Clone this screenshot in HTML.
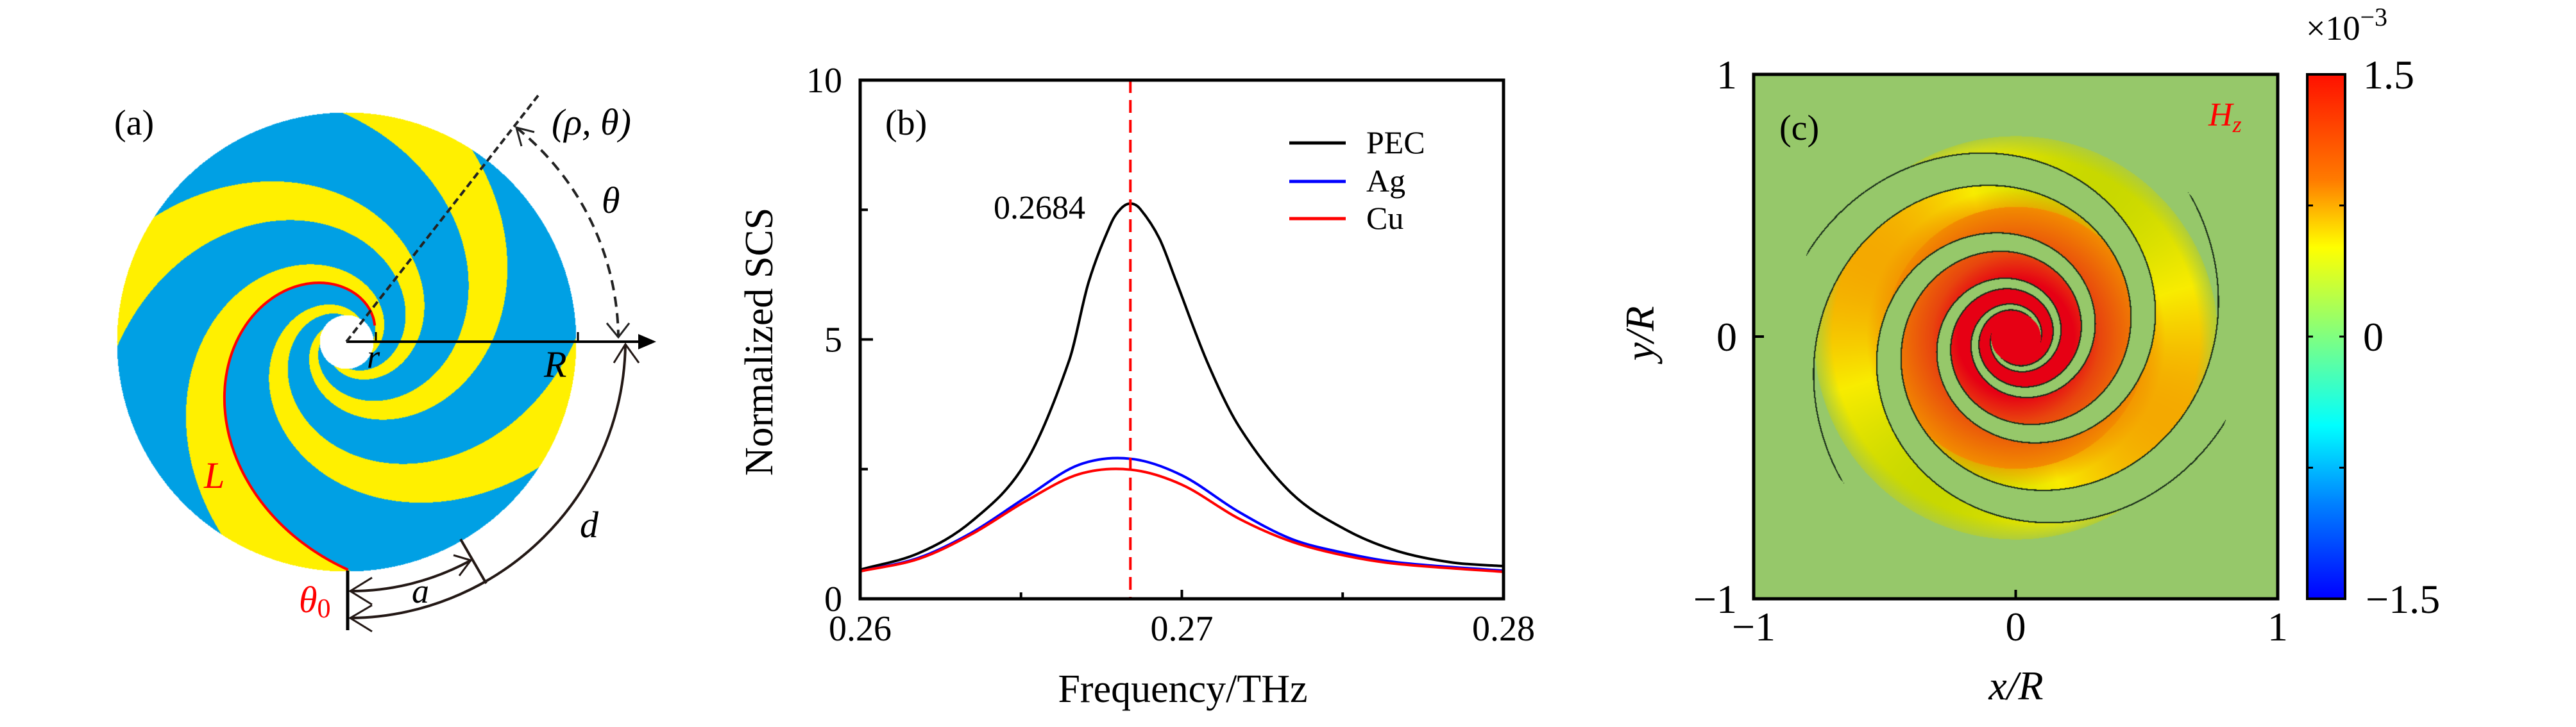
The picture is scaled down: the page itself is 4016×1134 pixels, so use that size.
<!DOCTYPE html>
<html><head><meta charset="utf-8">
<style>
html,body{margin:0;padding:0;background:#fff;}
#wrap{position:relative;width:4016px;height:1134px;overflow:hidden;font-family:"Liberation Serif","DejaVu Serif",serif;}
canvas,svg{position:absolute;left:0;top:0;}
svg text{font-family:"Liberation Serif","DejaVu Serif",serif;}
</style></head>
<body>
<div id="wrap">
<canvas id="ca" width="800" height="800" style="left:140px;top:133px"></canvas>
<canvas id="cc" width="817" height="818" style="left:2734px;top:116px"></canvas>
<svg id="sv" width="4016" height="1134" viewBox="0 0 4016 1134" font-family="Liberation Serif, DejaVu Serif, serif">
<defs>
<linearGradient id="jet" x1="0" y1="0" x2="0" y2="1">
<stop offset="0" stop-color="#ff1000"/><stop offset="0.2" stop-color="#ff7a00"/><stop offset="0.33" stop-color="#ffff00"/><stop offset="0.5" stop-color="#80ff80"/><stop offset="0.67" stop-color="#00ffff"/><stop offset="0.82" stop-color="#0080ff"/><stop offset="1" stop-color="#0000ff"/>
</linearGradient>
</defs>
<g id="ga"></g>
<g id="gb"></g>
<g id="gc"></g>
</svg>
</div>
<script>
// ---------- Panel (b) data ----------
const freqPEC = [0.26,0.26182,0.26348,0.26514,0.2665,0.2671,0.2678,0.2681,0.2684,0.2687,0.2693,0.2698,0.2708,0.2718,0.2734,0.2751,0.2767,0.2784,0.28];
const valPEC  = [0.56,0.88,1.50,2.62,4.60,6.10,7.24,7.52,7.62,7.52,6.95,6.16,4.55,3.30,2.04,1.33,0.92,0.70,0.63];
const freqMetal = [0.26,0.26182,0.26348,0.26514,0.26679,0.2684,0.2700,0.27176,0.27342,0.27508,0.27673,0.28];
const valAg = [0.53,0.79,1.28,1.95,2.58,2.70,2.38,1.68,1.15,0.88,0.70,0.54];
const valCu = [0.53,0.77,1.25,1.88,2.40,2.49,2.20,1.55,1.10,0.83,0.67,0.52];
const xTicks = [0.26,0.27,0.28];
const xTickLabels = ["0.26","0.27","0.28"];
const xMinor = [0.265,0.275];
const yTicks = [0,5,10];
const yTickLabels = ["0","5","10"];
const yMinor = [2.5,7.5];
const peakFreq = 0.2684;

const NS="http://www.w3.org/2000/svg";
function mk(tag,attrs,parent,txt){const e=document.createElementNS(NS,tag);for(const k in attrs)e.setAttribute(k,attrs[k]);if(txt!==undefined)e.textContent=txt;parent.appendChild(e);return e;}

const gb=document.getElementById('gb');
const BX0=1341,BX1=2344,BY0=125,BY1=934;
const xs=f=>BX0+(f-0.26)/(0.28-0.26)*(BX1-BX0);
const ys=v=>BY1-(v-0)/(10-0)*(BY1-BY0);
function smoothPath(X,Y){const n=X.length,m=[];
 for(let i=0;i<n;i++){if(i===0)m[i]=(Y[1]-Y[0])/(X[1]-X[0]);else if(i===n-1)m[i]=(Y[n-1]-Y[n-2])/(X[n-1]-X[n-2]);else m[i]=(Y[i+1]-Y[i-1])/(X[i+1]-X[i-1]);}
 let p=`M${X[0]},${Y[0]}`;for(let i=0;i<n-1;i++){const h=X[i+1]-X[i];p+=` C${X[i]+h/3},${Y[i]+m[i]*h/3} ${X[i+1]-h/3},${Y[i+1]-m[i+1]*h/3} ${X[i+1]},${Y[i+1]}`;}return p;}
let e;
e=mk('path',{d:smoothPath(freqPEC.map(xs),valPEC.map(ys)),fill:'none',stroke:'#000','stroke-width':4},gb);


e=mk('path',{d:smoothPath(freqMetal.map(xs),valAg.map(ys)),fill:'none',stroke:'#0000ff','stroke-width':4},gb);


e=mk('path',{d:smoothPath(freqMetal.map(xs),valCu.map(ys)),fill:'none',stroke:'#ff0000','stroke-width':4},gb);


e=mk('line',{x1:xs(peakFreq),x2:xs(peakFreq),y1:BY0,y2:BY1,stroke:'#ff0000','stroke-width':4,'stroke-dasharray':'20,11'},gb);


e=mk('text',{x:1549,y:341,'font-size':52},gb,String(peakFreq));


e=mk('rect',{x:BX0,y:BY0,width:BX1-BX0,height:BY1-BY0,fill:'none',stroke:'#000','stroke-width':5},gb);


xTicks.forEach((t,i)=>{
  e=mk('line',{x1:xs(t),x2:xs(t),y1:BY1,y2:BY1-14,stroke:'#000','stroke-width':4},gb);
  
  
  e=mk('text',{x:xs(t),y:999,'font-size':56,'text-anchor':'middle'},gb,xTickLabels[i]);
  
  
});
xMinor.forEach(t=>{e=mk('line',{x1:xs(t),x2:xs(t),y1:BY1,y2:BY1-10,stroke:'#000','stroke-width':4},gb);
  
  });
yTicks.forEach((t,i)=>{
  e=mk('line',{x1:BX0,x2:BX0+20,y1:ys(t),y2:ys(t),stroke:'#000','stroke-width':4},gb);
  
  
  e=mk('text',{x:1313,y:ys(t)+19,'font-size':56,'text-anchor':'end'},gb,yTickLabels[i]);
  
  
});
yMinor.forEach(t=>{e=mk('line',{x1:BX0,x2:BX0+12,y1:ys(t),y2:ys(t),stroke:'#000','stroke-width':4},gb);
  
  });
e=mk('text',{x:1844,y:1095,'font-size':62,'text-anchor':'middle'},gb,'Frequency/THz');


e=mk('text',{x:0,y:0,'font-size':62,'text-anchor':'middle',transform:'translate(1204,533) rotate(-90)'},gb,'Normalized SCS');


e=mk('text',{x:1380,y:210,'font-size':56},gb,'(b)');


const legNames=["PEC","Ag","Cu"],legColors=["#000","#0000ff","#ff0000"],legY=[223,283,341];
legNames.forEach((n,i)=>{
  e=mk('line',{x1:2010,x2:2098,y1:legY[i],y2:legY[i],stroke:legColors[i],'stroke-width':5},gb);
  
  
  e=mk('text',{x:2130,y:legY[i]+16,'font-size':50},gb,n);
  
  
});

// ---------- Panel (a) ----------
(function(){
const c=document.getElementById('ca'),ctx=c.getContext('2d');const W=800,H=800;const img=ctx.createImageData(W,H);
const CXa=540,CYa=533,R=358,r0=51,bb=0.1157;
const cx=CXa-140,cy=CYa-133;
for(let y=0;y<H;y++)for(let x=0;x<W;x++){
  const dx=x-cx,dy=cy-y,rho=Math.hypot(dx,dy);const i=(y*W+x)*4;
  if(rho>R||rho<42){continue;}
  let th=Math.atan2(dy,dx);
  let ph=4*th-Math.log(rho/r0)/bb-2.09;
  let f=((ph/(2*Math.PI))%1+1)%1;
  if(f>0.62){img.data[i]=255;img.data[i+1]=240;img.data[i+2]=0;}else{img.data[i]=0;img.data[i+1]=160;img.data[i+2]=228;}
  img.data[i+3]=255;
}
ctx.putImageData(img,0,0);
const ga=document.getElementById('ga');
let pts=[];for(let t=0.52;t<=4.72;t+=0.02){const rr=r0*Math.exp(bb*(4*t-2.09));pts.push((CXa+rr*Math.cos(t)).toFixed(1)+','+(CYa-rr*Math.sin(t)).toFixed(1));}
e=mk('polyline',{points:pts.join(' '),fill:'none',stroke:'#ff0000','stroke-width':4},ga);


e=mk('line',{x1:540,y1:533,x2:1000,y2:533,stroke:'#000','stroke-width':4},ga);


e=mk('polygon',{points:'1023,533 995,521 995,545',fill:'#000'},ga);


e=mk('line',{x1:586,y1:533,x2:586,y2:518,stroke:'#000','stroke-width':3},ga);


e=mk('line',{x1:901,y1:533,x2:901,y2:518,stroke:'#000','stroke-width':3},ga);


e=mk('line',{x1:540,y1:533,x2:839,y2:149,stroke:'#222','stroke-width':4,'stroke-dasharray':'11,6'},ga);


e=mk('path',{d:'M805,199 A425,425 0 0,1 964,526',fill:'none',stroke:'#222','stroke-width':4,'stroke-dasharray':'16,10'},ga);


e=mk('path',{d:'M813,228 L805,199 L833,206 M946,504 L964,526 L981,504',fill:'none',stroke:'#222','stroke-width':3},ga);


e=mk('path',{d:'M975,537 A433,433 0 0,1 546,964',fill:'none',stroke:'#231815','stroke-width':4},ga);


e=mk('path',{d:'M957,566 L975,537 L996,566 M580,944 L546,964 L580,985',fill:'none',stroke:'#231815','stroke-width':3},ga);


e=mk('path',{d:'M546,922 A389,389 0 0,0 734,874',fill:'none',stroke:'#231815','stroke-width':4},ga);


e=mk('path',{d:'M580,901 L546,922 L580,943 M707,866 L734,874 L716,898',fill:'none',stroke:'#231815','stroke-width':3},ga);


e=mk('line',{x1:718,y1:841,x2:758,y2:910,stroke:'#231815','stroke-width':4},ga);


e=mk('line',{x1:542,y1:890,x2:542,y2:983,stroke:'#000','stroke-width':5},ga);


const lab=[["(a)",178,210,56,'normal','#000','panel-label-a'],["(ρ, θ)",860,210,58,'italic','#000','point-label'],["θ",938,332,58,'italic','#000','theta-label'],["R",848,588,58,'italic','#000','R-label'],["r",572,574,52,'italic','#000','r-label'],["L",318,761,58,'italic','#ff0000','L-label'],["a",642,940,54,'italic','#000','a-label'],["d",904,838,58,'italic','#000','d-label']];
lab.forEach(l=>{e=mk('text',{x:l[1],y:l[2],'font-size':l[3],'font-style':l[4],fill:l[5]},ga,l[0]);
  
  });
e=mk('text',{x:466,y:955,'font-size':58,'font-style':'italic',fill:'#ff0000'},ga,'θ');


mk('tspan',{'font-style':'normal','font-size':42,dy:8},e,'0');
})();

// ---------- Panel (c) ----------
const cbTicks=[1.5,0,-1.5];
const cbTickLabels=["1.5","0","−1.5"];
const cTicks=[-1,0,1];
const cTickLabels=["−1","0","1"];
(function(){
const c=document.getElementById('cc'),ctx=c.getContext('2d');const W=817,H=818;const img=ctx.createImageData(W,H);
const mix=(a,b,t)=>{t=Math.max(0,Math.min(1,t));return [a[0]+(b[0]-a[0])*t,a[1]+(b[1]-a[1])*t,a[2]+(b[2]-a[2])*t];};
const bg=[150,200,106],red=[230,0,20],ored=[232,70,14],orange=[242,140,0],yel=[248,236,0],yg=[200,216,0];
const S=408.6,ox=409,oy=411,cc=0.09,gw=0.17,rIn=0.095,ph0=-Math.log(0.27)/0.09;
for(let y=0;y<H;y++)for(let x=0;x<W;x++){
  const u=(x+0.5-ox)/S,v=(oy-y-0.5)/S;const rho=Math.hypot(u,v),th=Math.atan2(v,u);
  let col=bg;
  if(rho<rIn){col=red;}
  else if(rho<0.86){
    const s=(Math.log(rho)/cc-2*th+ph0)/(2*Math.PI);
    const q=((s%1)+1)%1;
    const dq=Math.min(Math.abs(q-gw),Math.abs(q-(1-gw)));
    const pxPerQ=2*Math.PI*cc*rho*S;
    const inGap=(q<gw||q>1-gw);
    if(!inGap&&rho<0.77){
      if(rho<0.22)col=red;
      else if(rho<0.32)col=mix(red,ored,(rho-0.22)/0.1);
      else if(rho<0.5)col=mix(ored,orange,(rho-0.32)/0.18);
      else{const a=Math.cos(2*(th+0.5));let base=a>0?mix(yel,orange,a*0.7):mix(yel,yg,-a);col=mix(orange,base,(rho-0.45)/0.12);
        if(rho>0.7){col=mix(col,[175,205,60],(rho-0.7)/0.07);}}
    }
    if(dq*pxPerQ<1.1)col=[25,45,25];
  }
  const i=(y*W+x)*4;img.data[i]=col[0];img.data[i+1]=col[1];img.data[i+2]=col[2];img.data[i+3]=255;
}
ctx.putImageData(img,0,0);
const gc=document.getElementById('gc');
const CX0=2734,CX1=3551,CY0=116,CY1=934;
const cxs=t=>CX0+(t+1)/2*(CX1-CX0),cys=t=>CY1-(t+1)/2*(CY1-CY0);
e=mk('rect',{x:CX0,y:CY0,width:CX1-CX0,height:CY1-CY0,fill:'none',stroke:'#000','stroke-width':5},gc);


cTicks.forEach((t,i)=>{
  if(t===0){
  e=mk('line',{x1:cxs(t),x2:cxs(t),y1:CY1,y2:CY1-14,stroke:'#000','stroke-width':4},gc);
  
  
  e=mk('line',{x1:CX0,x2:CX0+16,y1:cys(t),y2:cys(t),stroke:'#000','stroke-width':4},gc);
  
  
  }
  e=mk('text',{x:cxs(t),y:999,'font-size':64,'text-anchor':'middle'},gc,cTickLabels[i]);
  
  
  e=mk('text',{x:2708,y:cys(t)+22,'font-size':64,'text-anchor':'end'},gc,cTickLabels[i]);
  
  
});
e=mk('text',{x:3143,y:1091,'font-size':64,'font-style':'italic','text-anchor':'middle'},gc,'x/R');


e=mk('text',{x:0,y:0,'font-size':64,'font-style':'italic','text-anchor':'middle',transform:'translate(2578,520) rotate(-90)'},gc,'y/R');


e=mk('text',{x:2774,y:218,'font-size':56},gc,'(c)');


e=mk('text',{x:3443,y:196,'font-size':52,'font-style':'italic',fill:'#ff0000'},gc,'H');


mk('tspan',{'font-size':36,dy:10},e,'z');
const BY0c=116,BY1c=934;
const cbs=t=>BY1c-(t+1.5)/3*(BY1c-BY0c);
e=mk('rect',{x:3597,y:BY0c,width:59,height:BY1c-BY0c,fill:'url(#jet)',stroke:'#000','stroke-width':4},gc);


[0.75,0,-0.75].forEach(t=>{
  e=mk('path',{d:`M3597,${cbs(t)} h9 M3656,${cbs(t)} h-9`,stroke:'#000','stroke-width':3},gc);
  
  
});
cbTicks.forEach((t,i)=>{
  e=mk('text',{x:t<0?3688:3684,y:cbs(t)+22,'font-size':64},gc,cbTickLabels[i]);
  
  
});
e=mk('text',{x:3595,y:62,'font-size':54},gc,'×10');


mk('tspan',{'font-size':40,dy:-22},e,'−3');
})();
</script>
</body></html>
